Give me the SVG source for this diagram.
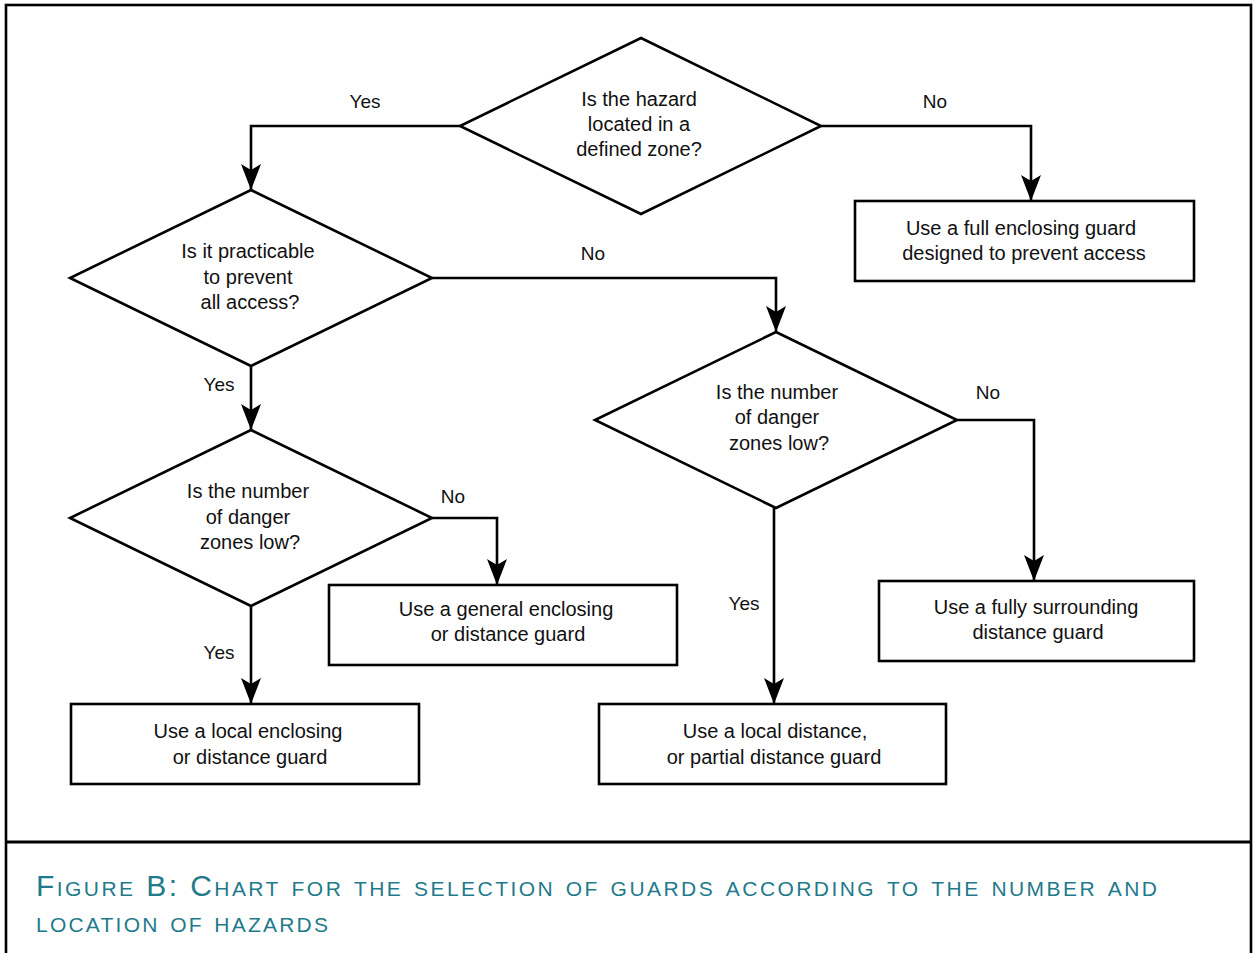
<svg xmlns="http://www.w3.org/2000/svg" width="1253" height="953" viewBox="0 0 1253 953">
<style>
.shape{fill:#fff;stroke:#000;stroke-width:2.6}
.conn{fill:none;stroke:#000;stroke-width:2.6}
.t{font-family:"Liberation Sans",Arial,sans-serif;font-size:20px;fill:#111;text-anchor:middle}
.lbl{font-family:"Liberation Sans",Arial,sans-serif;font-size:19px;fill:#111;text-anchor:middle}
.cap{font-family:"Liberation Sans",Arial,sans-serif;font-size:30px;fill:#1f7a8c;font-variant:small-caps}
</style>
<defs>
<marker id="ah" viewBox="0 0 26 20" refX="26" refY="10" markerWidth="26" markerHeight="20" markerUnits="userSpaceOnUse" orient="auto">
<path d="M0,0 L26,10 L0,20 L6,10 z" fill="#000"/>
</marker>
</defs>
<rect x="0" y="0" width="1253" height="953" fill="#fff"/>
<rect x="6" y="5" width="1245" height="970" fill="none" stroke="#000" stroke-width="2.6"/>
<line x1="6" y1="842" x2="1251" y2="842" stroke="#000" stroke-width="3"/>

<g id="connectors">
<path class="conn" d="M460,126 H251 V190" marker-end="url(#ah)"/>
<path class="conn" d="M821,126 H1031 V201" marker-end="url(#ah)"/>
<path class="conn" d="M432,278 H776 V332" marker-end="url(#ah)"/>
<path class="conn" d="M251,366 V430" marker-end="url(#ah)"/>
<path class="conn" d="M432,518 H497 V585" marker-end="url(#ah)"/>
<path class="conn" d="M251,606 V704" marker-end="url(#ah)"/>
<path class="conn" d="M957,420 H1034 V581" marker-end="url(#ah)"/>
<path class="conn" d="M774,508 V704" marker-end="url(#ah)"/>
<text class="lbl" x="365" y="108">Yes</text>
<text class="lbl" x="935" y="108">No</text>
<text class="lbl" x="593" y="260">No</text>
<text class="lbl" x="219" y="391">Yes</text>
<text class="lbl" x="453" y="503">No</text>
<text class="lbl" x="219" y="659">Yes</text>
<text class="lbl" x="988" y="399">No</text>
<text class="lbl" x="744" y="610">Yes</text>
</g>

<g id="d1">
<polygon class="shape" points="641,38 821,126 641,214 460,126"/>
<text class="t" x="639" y="106">Is the hazard</text>
<text class="t" x="639" y="131">located in a</text>
<text class="t" x="639" y="156">defined zone?</text>
</g>
<g id="b1">
<rect class="shape" x="855" y="201" width="339" height="80"/>
<text class="t" x="1021" y="235">Use a full enclosing guard</text>
<text class="t" x="1024" y="260">designed to prevent access</text>
</g>
<g id="d2">
<polygon class="shape" points="251,190 432,278 251,366 70,278"/>
<text class="t" x="248" y="258">Is it practicable</text>
<text class="t" x="248" y="284">to prevent</text>
<text class="t" x="250" y="309">all access?</text>
</g>
<g id="d3">
<polygon class="shape" points="251,430 432,518 251,606 70,518"/>
<text class="t" x="248" y="498">Is the number</text>
<text class="t" x="248" y="524">of danger</text>
<text class="t" x="250" y="549">zones low?</text>
</g>
<g id="d4">
<polygon class="shape" points="776,332 957,420 776,508 595,420"/>
<text class="t" x="777" y="399">Is the number</text>
<text class="t" x="777" y="424">of danger</text>
<text class="t" x="779" y="450">zones low?</text>
</g>
<g id="b2">
<rect class="shape" x="329" y="585" width="348" height="80"/>
<text class="t" x="506" y="616">Use a general enclosing</text>
<text class="t" x="508" y="641">or distance guard</text>
</g>
<g id="b3">
<rect class="shape" x="71" y="704" width="348" height="80"/>
<text class="t" x="248" y="738">Use a local enclosing</text>
<text class="t" x="250" y="764">or distance guard</text>
</g>
<g id="b4">
<rect class="shape" x="879" y="581" width="315" height="80"/>
<text class="t" x="1036" y="614">Use a fully surrounding</text>
<text class="t" x="1038" y="639">distance guard</text>
</g>
<g id="b5">
<rect class="shape" x="599" y="704" width="347" height="80"/>
<text class="t" x="775" y="738">Use a local distance,</text>
<text class="t" x="774" y="764">or partial distance guard</text>
</g>

<g id="caption">
<text class="cap" x="36" y="896" textLength="1121" lengthAdjust="spacing">Figure B: Chart for the selection of guards according to the number and</text>
<text class="cap" x="36" y="932" textLength="292" lengthAdjust="spacing">location of hazards</text>
</g>
</svg>
